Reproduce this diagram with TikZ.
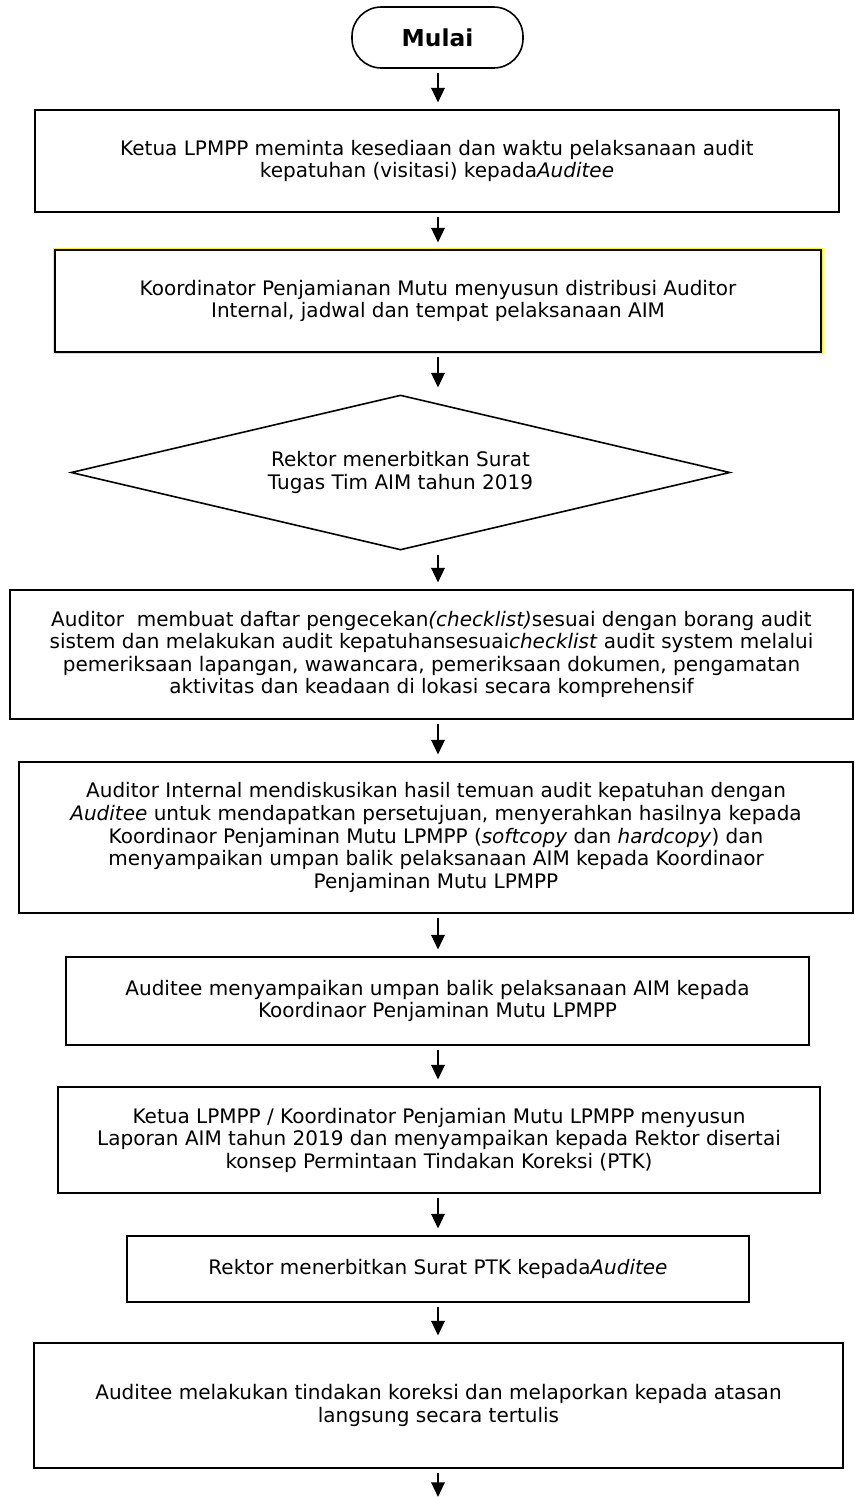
\documentclass[tikz,border=0pt]{standalone}
\usepackage{fontspec}
\setmainfont{DejaVu Sans}
\usetikzlibrary{arrows.meta,shapes.geometric}

\tikzset{
  boxsize/.style 2 args={minimum width=#1*0.75pt,minimum height=#2*0.75pt},
  box/.style={draw,line width=1.2pt,fill=white,inner sep=0pt,align=center,
    font=\fontsize{15}{16.9}\selectfont},
  term/.style={box,rounded corners=22pt,font=\fontsize{17.5}{20}\selectfont\bfseries},
  dec/.style={box,diamond,aspect=4.25,font=\fontsize{15}{17.3}\selectfont},
  yellowbox/.style={preaction={draw=yellow,line width=3.6pt}},
  flow/.style={line width=1.6pt,-{Triangle[width=10pt,length=11pt]},
    shorten <=3pt,shorten >=5pt},
}

\begin{document}
\begin{tikzpicture}[x=0.75pt,y=-0.75pt]
\useasboundingbox (0,0) rectangle (855,1497);
\coordinate (axis) at (438,0);
            % Steps
\node[term,boxsize={171}{61}] (mulai) at (437.5,37.5) {Mulai};%Start
\node[box,boxsize={804}{102}] (minta) at (437,161)
  {Ketua LPMPP meminta kesediaan dan waktu pelaksanaan audit\\
   kepatuhan (visitasi) kepada\textit{Auditee}};
\node[box,yellowbox,boxsize={766}{102}] (susun) at (438,301)
  {Koordinator Penjamianan Mutu menyusun distribusi Auditor\\
   Internal, jadwal dan tempat pelaksanaan AIM};%yellow
\node[dec,boxsize={659}{155}] (tugas) at (400.5,472.5)
  {Rektor menerbitkan Surat\\ Tugas Tim AIM tahun 2019};%Decision
\node[box,boxsize={843}{129}] (cek) at (431.5,654.5)
  {Auditor~ membuat daftar pengecekan\textit{(checklist)}sesuai dengan borang audit\\
   sistem dan melakukan audit kepatuhansesuai\textit{checklist} audit system melalui\\
   pemeriksaan lapangan, wawancara, pemeriksaan dokumen, pengamatan\\
   aktivitas dan keadaan di lokasi secara komprehensif};
\node[box,boxsize={834}{151}] (diskusi) at (436,837.5)
  {Auditor Internal mendiskusikan hasil temuan audit kepatuhan dengan\\
   \textit{Auditee} untuk mendapatkan persetujuan, menyerahkan hasilnya kepada\\
   Koordinaor Penjaminan Mutu LPMPP (\textit{softcopy} dan \textit{hardcopy}) dan\\
   menyampaikan umpan balik pelaksanaan AIM kepada Koordinaor\\
   Penjaminan Mutu LPMPP};
\node[box,boxsize={743}{88}] (balik) at (437.5,1001)
  {Auditee menyampaikan umpan balik pelaksanaan AIM kepada\\
   Koordinaor Penjaminan Mutu LPMPP};
\node[box,boxsize={762}{106}] (laporan) at (439,1140)
  {Ketua LPMPP / Koordinator Penjamian Mutu LPMPP menyusun\\
   Laporan AIM tahun 2019 dan menyampaikan kepada Rektor disertai\\
   konsep Permintaan Tindakan Koreksi (PTK)};
\node[box,boxsize={622}{66}] (ptk) at (438,1269)
  {Rektor menerbitkan Surat PTK kepada\textit{Auditee}};
\node[box,boxsize={809}{125}] (koreksi) at (438.5,1405.5)
  {Auditee melakukan tindakan koreksi dan melaporkan kepada atasan\\
   langsung secara tertulis};
\coordinate (lanjut) at (438,1497);%Off page
            % Arrows
\draw[flow] (mulai.south -| axis) -- (minta.north -| axis);
\draw[flow] (minta.south -| axis) -- (susun.north -| axis);
\draw[flow] (susun.south -| axis) -- (tugas.north -| axis);
\draw[flow] (tugas.south -| axis) -- (cek.north -| axis);
\draw[flow] (cek.south -| axis) -- (diskusi.north -| axis);
\draw[flow] (diskusi.south -| axis) -- (balik.north -| axis);
\draw[flow] (balik.south -| axis) -- (laporan.north -| axis);
\draw[flow] (laporan.south -| axis) -- (ptk.north -| axis);
\draw[flow] (ptk.south -| axis) -- (koreksi.north -| axis);
\draw[flow,shorten >=0pt] (koreksi.south -| axis) -- (lanjut);
\end{tikzpicture}
\end{document}
